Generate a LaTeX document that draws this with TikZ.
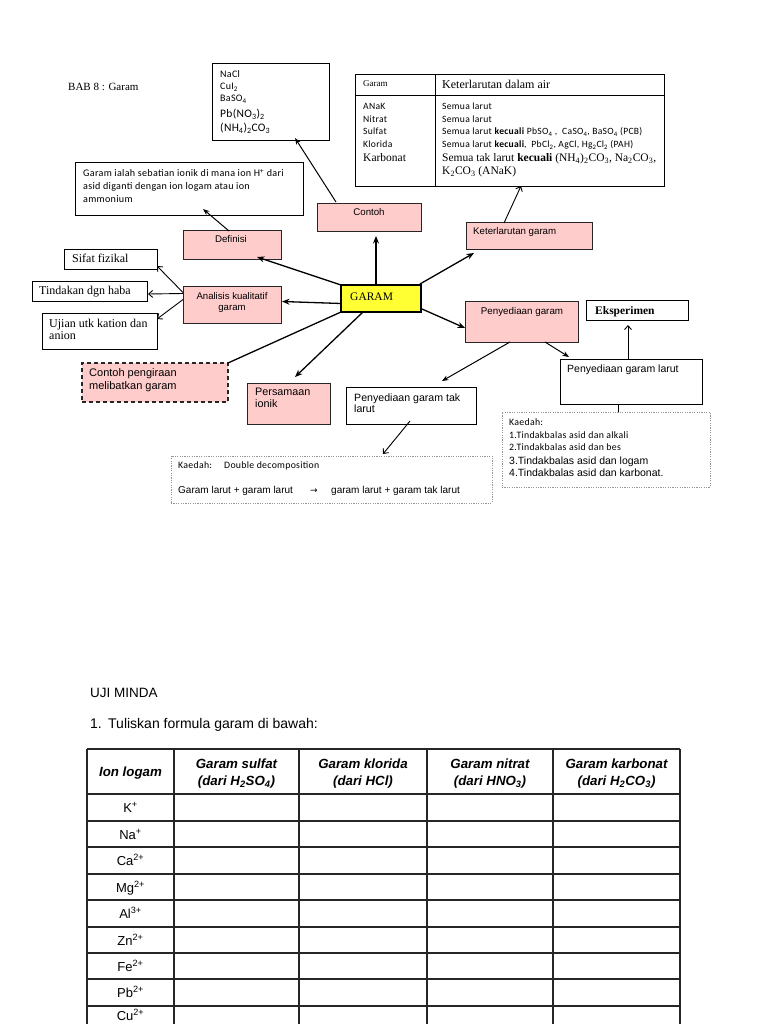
\documentclass[tikz,border=0pt]{standalone}
\usepackage{fontspec}
\setmainfont{Liberation Serif}
\newfontfamily\arialf{Liberation Sans}
\newfontfamily\calib[LetterSpace=3]{Carlito}
\newfontfamily\dejavu{DejaVu Sans}
\usetikzlibrary{arrows.meta,calc}

\definecolor{pinkfill}{RGB}{255,204,204}
\definecolor{yellowfill}{RGB}{255,255,51}
\definecolor{dotgray}{RGB}{150,150,150}

\newcommand\fA[1]{\arialf\fontsize{#1}{#1}\selectfont}
\newcommand\fC[1]{\calib\fontsize{#1}{#1}\selectfont}
\newcommand\fS[1]{\rmfamily\fontsize{#1}{#1}\selectfont}

\tikzset{
  basebox/.style={inner sep=0pt, outer sep=0pt},
  plainbox/.style={basebox, draw=black, line width=1pt, fill=white},
  pinkbox/.style={basebox, draw=black!85, line width=1pt, fill=pinkfill},
  pinkdash/.style={basebox, draw=black!85, line width=1.3pt, fill=pinkfill, dash pattern=on 4pt off 3pt},
  yellowbox/.style={basebox, draw=black, line width=2.6pt, fill=yellowfill},
  dotbox/.style={basebox, draw=dotgray, line width=0.9pt, dash pattern=on 1.2pt off 1.2pt, fill=white},
  lbl/.style={inner sep=0pt, anchor=base west},
  clbl/.style={inner sep=0pt, anchor=base},
  arrf/.style={line width=1.3pt, -{Stealth[length=7.5pt,width=6pt]}},
  arrt/.style={line width=1pt, -{Stealth[length=6.5pt,width=5pt]}},
  arro/.style={line width=0.9pt, -{Straight Barb[length=4pt,width=7pt]}},
  link/.style={line width=1.3pt},
  tbl/.style={line width=1.5pt, draw=black!85},
}

\newcommand\rbox[6]{\node[#2, minimum width={(#5-#3)*1pt}, minimum height={(#6-#4)*1pt}] (#1) at ({(#3+#5)/2},{(#4+#6)/2}) {};}

\begin{document}
\begin{tikzpicture}[x=1pt,y=-1pt]
\useasboundingbox (0,0) rectangle (768,1024);
\fill[white] (0,0) rectangle (768,1024);
\clip (0,0) rectangle (768,1024);

% ---------- boxes ----------
\rbox{nacl}{plainbox}{212}{64}{329}{141}
\rbox{defbox}{plainbox}{75}{163}{303}{216}
\rbox{soltable}{plainbox}{355}{75}{664}{187}
\rbox{contoh}{pinkbox}{317}{204}{421}{232}
\rbox{definisi}{pinkbox}{183}{231}{281}{259}
\rbox{keter}{pinkbox}{466}{223}{592}{249}
\rbox{sifat}{plainbox}{64}{249}{157}{269}
\rbox{tindakan}{plainbox}{32}{281}{147}{301}
\rbox{ujian}{plainbox}{42}{313}{157}{349}
\rbox{analisis}{pinkbox}{183}{286}{281}{323}
\rbox{garam}{yellowbox}{341}{285}{421}{312}
\rbox{penyediaan}{pinkbox}{465}{301}{578}{342}
\rbox{eksperimen}{plainbox}{586}{300}{688}{320}
\rbox{larut}{plainbox}{560}{359}{702}{404}
\rbox{pengiraan}{pinkdash}{82}{363}{228}{402}
\rbox{persamaan}{pinkbox}{247}{383}{330}{424}
\rbox{taklarut}{plainbox}{346}{387}{476}{424}
\rbox{kaedahR}{dotbox}{502}{412}{710}{487}
\rbox{kaedahB}{dotbox}{171}{456}{492}{503}

% solubility table rules
\draw[line width=1pt] ($(soltable.north west)+(80,0)$) -- ($(soltable.south west)+(80,0)$);
\draw[line width=1pt] ($(soltable.north west)+(0,21)$) -- ($(soltable.north east)+(0,21)$);

% ---------- texts ----------
\node[lbl, font={\fS{11}}] (bab) at (68,91) {BAB 8 : Garam};

\node[lbl, font={\fC{10}}] (n1) at (220,78) {NaCl};
\node[lbl, font={\fC{10}}] (n2) at (220,90) {CuI\textsubscript{2}};
\node[lbl, font={\fC{10}}] (n3) at (220,102) {BaSO\textsubscript{4}};
\node[lbl, font={\fC{11.5}}] (n4) at (220,118) {Pb(NO\textsubscript{3})\textsubscript{2}};
\node[lbl, font={\fC{11.5}}] (n5) at (220,132) {(NH\textsubscript{4})\textsubscript{2}CO\textsubscript{3}};

\node[lbl, font={\fC{10.1}}] (d1) at (83,177) {Garam ialah sebatian ionik di mana ion H\textsuperscript{+} dari};
\node[lbl, font={\fC{10.1}}] (d2) at (83,190) {asid diganti dengan ion logam atau ion};
\node[lbl, font={\fC{10.1}}] (d3) at (83,203) {ammonium};

\node[lbl, font={\fS{9}}] (h1) at (363,87) {Garam};
\node[lbl, font={\fS{12}}] (h2) at (442,88.5) {Keterlarutan dalam air};
\node[lbl, font={\fC{9.6}}] (r1) at (363,110) {ANaK};
\node[lbl, font={\fC{9.6}}] (r2) at (363,123) {Nitrat};
\node[lbl, font={\fC{9.6}}] (r3) at (363,135) {Sulfat};
\node[lbl, font={\fC{9.6}}] (r4) at (363,148) {Klorida};
\node[lbl, font={\fS{11.5}}] (r5) at (363,161.5) {Karbonat};
\node[lbl, font={\fC{9.6}}] (s1) at (442,110) {Semua larut};
\node[lbl, font={\fC{9.6}}] (s2) at (442,123) {Semua larut};
\node[lbl, font={\fC{9.6}}] (s3) at (442,135) {Semua larut \textbf{kecuali} PbSO\textsubscript{4} ,\ \ CaSO\textsubscript{4}, BaSO\textsubscript{4} (PCB)};
\node[lbl, font={\fC{9.6}}] (s4) at (442,148) {Semua larut \textbf{kecuali},\ \ PbCl\textsubscript{2}, AgCl, Hg\textsubscript{2}Cl\textsubscript{2} (PAH)};
\node[lbl, font={\fS{11.5}}] (s5) at (442,161.5) {Semua tak larut \textbf{kecuali} (NH\textsubscript{4})\textsubscript{2}CO\textsubscript{3}, Na\textsubscript{2}CO\textsubscript{3},};
\node[lbl, font={\fS{11.5}}] (s6) at (442,174.5) {K\textsubscript{2}CO\textsubscript{3} (ANaK)};

\node[clbl, font={\fA{9.7}}] (tcontoh) at (369,216) {Contoh};
\node[clbl, font={\fA{9.7}}] (tdef) at (231,243) {Definisi};
\node[lbl, font={\fA{9.7}}] (tketer) at (473,234) {Keterlarutan garam};
\node[lbl, font={\fS{12}}] (tsifat) at (72,262) {Sifat fizikal};
\node[lbl, font={\fS{12}}] (ttind) at (39,294) {Tindakan dgn haba};
\node[lbl, font={\fS{12}}] (tuj1) at (49,327) {Ujian utk kation dan};
\node[lbl, font={\fS{12}}] (tuj2) at (49,339) {anion};
\node[clbl, font={\fA{9.6}}] (tan1) at (232,299) {Analisis kualitatif};
\node[clbl, font={\fA{9.6}}] (tan2) at (232,310) {garam};
\node[lbl, font={\fS{11.5}}] (tgaram) at (350,300) {GARAM};
\node[clbl, font={\fA{9.8}}] (tpeny) at (522,314) {Penyediaan garam};
\node[lbl, font={\fS{11.5}\bfseries}] (teks) at (595,314) {Eksperimen};
\node[lbl, font={\fA{10.5}}] (tlarut) at (567,372) {Penyediaan garam larut};
\node[lbl, font={\fA{11}}] (tpg1) at (89,376.5) {Contoh pengiraan};
\node[lbl, font={\fA{11}}] (tpg2) at (89,389.5) {melibatkan garam};
\node[lbl, font={\fA{10.8}}] (tps1) at (255,395) {Persamaan};
\node[lbl, font={\fA{10.8}}] (tps2) at (255,407) {ionik};
\node[lbl, font={\fA{10.6}}] (ttl1) at (354,401) {Penyediaan garam tak};
\node[lbl, font={\fA{10.6}}] (ttl2) at (354,412) {larut};

\node[lbl, font={\fC{9.8}}] (k1) at (509,425) {Kaedah:};
\node[lbl, font={\fC{9.8}}] (k2) at (509,438) {1.Tindakbalas asid dan alkali};
\node[lbl, font={\fC{9.8}}] (k3) at (509,450) {2.Tindakbalas asid dan bes};
\node[lbl, font={\fA{10.5}}] (k4) at (509,464) {3.Tindakbalas asid dan logam};
\node[lbl, font={\fA{10.5}}] (k5) at (509,476) {4.Tindakbalas asid dan karbonat.};

\node[lbl, font={\fC{9.8}}] (kb1) at (178,468) {Kaedah:};
\node[lbl, font={\fC{9.8}}] (kb2) at (224,468) {Double decomposition};
\node[lbl, font={\fA{10}}] (kb3) at (178,493) {Garam larut + garam larut};
\node[clbl, font={\dejavu\fontsize{9}{9}\selectfont}] (kb4) at (314,493) {→};
\node[lbl, font={\fA{10}}] (kb5) at (331,493) {garam larut + garam tak larut};

% ---------- connectors ----------
\draw[arrf] (garam.north west) -- ($(definisi.south east)+(-24,-2)$);
\draw[arrf] ($(garam.north)+(-5,0)$) -- ($(contoh.south)+(7,4)$);
\draw[arrf] ($(garam.north east)+(-1,-1)$) -- ($(keter.south west)+(8,4)$);
\draw[arro] ($(keter.north west)+(38,0)$) -- ($(soltable.south west)+(166,-1)$);
\draw[arrt] ($(contoh.north west)+(19,-2)$) -- ($(nacl.south east)+(-34,-3)$);
\draw[arrt] ($(definisi.north)+(-3,0)$) -- ($(defbox.south west)+(128,-7)$);
\draw[arrf] ($(garam.west)+(0,5)$) -- ($(analisis.east)+(1,-3)$);
\draw[arro] ($(analisis.west)+(0,-12)$) -- ($(sifat.south east)+(0,-3)$);
\draw[arro] ($(analisis.west)+(0,-11)$) -- ($(tindakan.east)+(1,3)$);
\draw[arro] ($(analisis.west)+(0,-5)$) -- ($(ujian.north east)+(0,6)$);
\draw[link] (garam.south west) -- (pengiraan.north east);
\draw[arrf] ($(garam.south west)+(22,0)$) -- ($(persamaan.north)+(6.5,-6)$);
\draw[arrf] ($(garam.south east)+(1,-3)$) -- ($(penyediaan.west)+(0,6.5)$);
\draw[arrt] ($(penyediaan.south west)+(45,0)$) -- ($(taklarut.north east)+(-34,-6)$);
\draw[arrt] ($(penyediaan.south west)+(80,0)$) -- ($(larut.north west)+(9,-2)$);
\draw[arro] ($(larut.north)+(-3,0)$) -- ($(eksperimen.south)+(-9,5)$);
\draw[line width=0.9pt] ($(larut.south)+(-13,0)$) -- ($(kaedahR.north)+(12,0)$);
\draw[arro] ($(taklarut.south)+(-1,-3)$) -- ($(kaedahB.north)+(51.5,-2)$);

% ---------- lower section ----------
\node[lbl, font={\fA{13.5}}] (uji) at (90,697) {UJI MINDA};
\node[lbl, font={\fA{14}}] (q1n) at (90,728) {1.};
\node[lbl, font={\fA{14}}] (q1) at (108,728) {Tuliskan formula garam di bawah:};

\foreach \xx in {87,174,299,427,553,680} \draw[tbl] (\xx,749) -- (\xx,1040);
\foreach \yy in {749,794,821,847,874,900,927,953,979,1006} \draw[tbl] (87,\yy) -- (680,\yy);

\node[clbl, font={\fA{13.3}\bfseries\itshape}] (c0) at (130.5,776) {Ion logam};
\node[clbl, font={\fA{13.3}\bfseries\itshape}] (c1a) at (236.5,768) {Garam sulfat};
\node[clbl, font={\fA{13.3}\bfseries\itshape}] (c1b) at (236.5,785) {(dari H\textsubscript{2}SO\textsubscript{4})};
\node[clbl, font={\fA{13.3}\bfseries\itshape}] (c2a) at (363,768) {Garam klorida};
\node[clbl, font={\fA{13.3}\bfseries\itshape}] (c2b) at (363,785) {(dari HCl)};
\node[clbl, font={\fA{13.3}\bfseries\itshape}] (c3a) at (490,768) {Garam nitrat};
\node[clbl, font={\fA{13.3}\bfseries\itshape}] (c3b) at (490,785) {(dari HNO\textsubscript{3})};
\node[clbl, font={\fA{13.3}\bfseries\itshape}] (c4a) at (616.5,768) {Garam karbonat};
\node[clbl, font={\fA{13.3}\bfseries\itshape}] (c4b) at (616.5,785) {(dari H\textsubscript{2}CO\textsubscript{3})};

\node[clbl, font={\fA{13}}] (i1) at (130.5,812) {K\textsuperscript{+}};
\node[clbl, font={\fA{13}}] (i2) at (130.5,839) {Na\textsuperscript{+}};
\node[clbl, font={\fA{13}}] (i3) at (130.5,865) {Ca\textsuperscript{2+}};
\node[clbl, font={\fA{13}}] (i4) at (130.5,892) {Mg\textsuperscript{2+}};
\node[clbl, font={\fA{13}}] (i5) at (130.5,918) {Al\textsuperscript{3+}};
\node[clbl, font={\fA{13}}] (i6) at (130.5,945) {Zn\textsuperscript{2+}};
\node[clbl, font={\fA{13}}] (i7) at (130.5,971) {Fe\textsuperscript{2+}};
\node[clbl, font={\fA{13}}] (i8) at (130.5,997) {Pb\textsuperscript{2+}};
\node[clbl, font={\fA{13}}] (i9) at (130.5,1020) {Cu\textsuperscript{2+}};
\end{tikzpicture}
\end{document}
